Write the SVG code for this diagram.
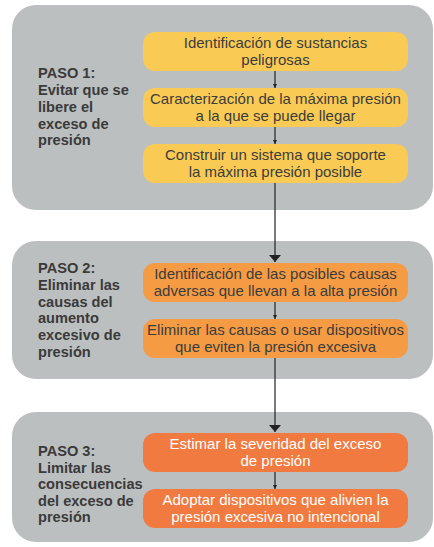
<svg xmlns="http://www.w3.org/2000/svg" width="434" height="547" viewBox="0 0 434 547">
<defs>
<style>
.panel{fill:#bcbfbf}
.lbl{font-family:"Liberation Sans",Arial,sans-serif;font-weight:bold;font-size:14.6px;fill:#3a3a3a}
.bt{font-family:"Liberation Sans",Arial,sans-serif;font-size:15px;fill:#3c3c3c;text-anchor:middle}
.w{fill:#ffffff}
.y{fill:#f9cb55}
.o{fill:#f59b44}
.r{fill:#f07a40}
.ln{stroke:#222;stroke-width:1.2;fill:none}
</style>
<marker id="sa" viewBox="0 0 10 10" refX="10" refY="5" markerWidth="5" markerHeight="4" markerUnits="userSpaceOnUse" orient="auto"><path d="M0,0 L10,5 L0,10 z" fill="#222"/></marker>
<marker id="la" viewBox="0 0 10 10" refX="10" refY="5" markerWidth="7" markerHeight="12" markerUnits="userSpaceOnUse" orient="auto" preserveAspectRatio="none"><path d="M0,0 L10,5 L0,10 z" fill="#222"/></marker>
</defs>
<rect width="434" height="547" fill="#ffffff"/>
<g id="panel1">
<rect class="panel" x="12" y="5" width="421" height="205" rx="24"/>
<text class="lbl" x="38" y="78">PASO 1:</text>
<text class="lbl" x="38" y="95">Evitar que se</text>
<text class="lbl" x="38" y="112">libere el</text>
<text class="lbl" x="38" y="128.5">exceso de</text>
<text class="lbl" x="38" y="145">presión</text>
</g>
<g id="panel2">
<rect class="panel" x="12" y="241" width="421" height="138" rx="24"/>
<text class="lbl" x="38" y="273">PASO 2:</text>
<text class="lbl" x="38" y="290">Eliminar las</text>
<text class="lbl" x="38" y="306.5">causas del</text>
<text class="lbl" x="38" y="323">aumento</text>
<text class="lbl" x="38" y="340">excesivo de</text>
<text class="lbl" x="38" y="356.5">presión</text>
</g>
<g id="panel3">
<rect class="panel" x="12" y="412" width="421" height="130" rx="24"/>
<text class="lbl" x="38" y="456">PASO 3:</text>
<text class="lbl" x="38" y="472.5">Limitar las</text>
<text class="lbl" x="38" y="489">consecuencias</text>
<text class="lbl" x="38" y="505.5">del exceso de</text>
<text class="lbl" x="38" y="522">presión</text>
</g>
<g id="connectors">
<line class="ln" x1="275" y1="71" x2="275" y2="88" marker-end="url(#sa)"/>
<line class="ln" x1="275" y1="127" x2="275" y2="144" marker-end="url(#sa)"/>
<line class="ln" x1="275" y1="183" x2="275" y2="262" marker-end="url(#la)"/>
<line class="ln" x1="275" y1="302" x2="275" y2="319" marker-end="url(#sa)"/>
<line class="ln" x1="275" y1="358" x2="275" y2="432" marker-end="url(#la)"/>
<line class="ln" x1="275" y1="472" x2="275" y2="489" marker-end="url(#sa)"/>
</g>
<g id="box1">
<rect class="y" x="143" y="32" width="265" height="39" rx="12"/>
<text class="bt" x="275.5" y="48">Identificación de sustancias</text>
<text class="bt" x="275.5" y="64.5">peligrosas</text>
</g>
<g id="box2">
<rect class="y" x="143" y="88" width="265" height="39" rx="12"/>
<text class="bt" x="275.5" y="104">Caracterización de la máxima presión</text>
<text class="bt" x="275.5" y="120.5">a la que se puede llegar</text>
</g>
<g id="box3">
<rect class="y" x="143" y="144" width="265" height="39" rx="12"/>
<text class="bt" x="275.5" y="160">Construir un sistema que soporte</text>
<text class="bt" x="275.5" y="176.5">la máxima presión posible</text>
</g>
<g id="box4">
<rect class="o" x="143" y="263" width="265" height="39" rx="12"/>
<text class="bt" x="275.5" y="279">Identificación de las posibles causas</text>
<text class="bt" x="275.5" y="295.5">adversas que llevan a la alta presión</text>
</g>
<g id="box5">
<rect class="o" x="143" y="319" width="265" height="39" rx="12"/>
<text class="bt" x="275.5" y="335">Eliminar las causas o usar dispositivos</text>
<text class="bt" x="275.5" y="351.5">que eviten la presión excesiva</text>
</g>
<g id="box6">
<rect class="r" x="143" y="433" width="265" height="39" rx="12"/>
<text class="bt w" x="275.5" y="449">Estimar la severidad del exceso</text>
<text class="bt w" x="275.5" y="465.5">de presión</text>
</g>
<g id="box7">
<rect class="r" x="143" y="489" width="265" height="39" rx="12"/>
<text class="bt w" x="275.5" y="505">Adoptar dispositivos que alivien la</text>
<text class="bt w" x="275.5" y="521.5">presión excesiva no intencional</text>
</g>
</svg>
